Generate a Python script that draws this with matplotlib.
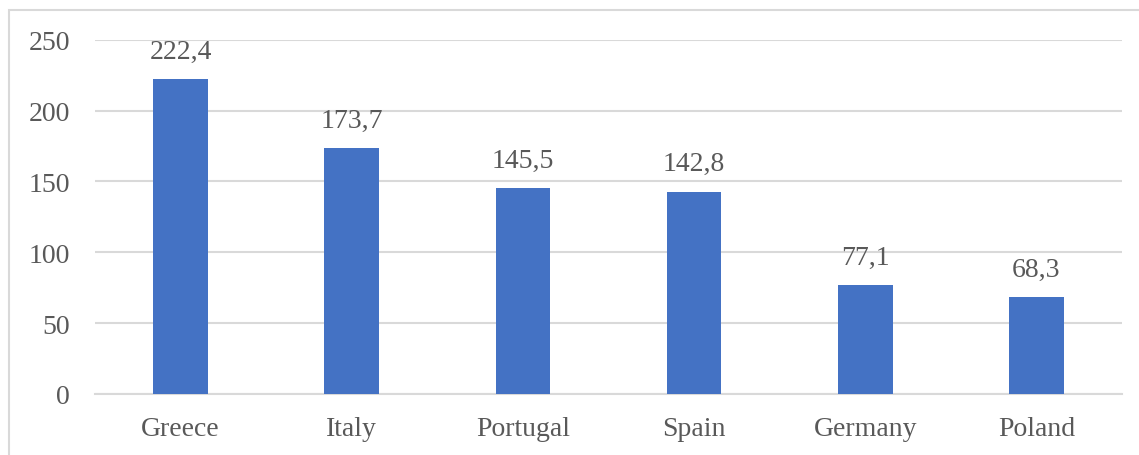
import matplotlib.pyplot as plt
from matplotlib.patches import Rectangle

countries = ["Greece", "Italy", "Portugal", "Spain", "Germany", "Poland"]
values = [222.4, 173.7, 145.5, 142.8, 77.1, 68.3]
labels = ["222,4", "173,7", "145,5", "142,8", "77,1", "68,3"]

plt.rcParams['font.family'] = ['Liberation Serif', 'DejaVu Serif']
text_color = '#595959'

fig = plt.figure(figsize=(11.39, 4.56), dpi=100)
# outer chart frame (only top/left edges visible in the crop)
fig.patches.append(Rectangle((9 / 1139, -0.1), 1.2, 1 - 11 / 456 + 0.1,
                             transform=fig.transFigure, fill=False,
                             edgecolor='#d9d9d9', linewidth=1.5))

ax = fig.add_axes([95 / 1139, 1 - 395 / 456, (1122 - 95) / 1139, (395 - 40.7) / 456])
x = range(len(countries))
bars = ax.bar(x, values, width=0.32, color='#4472C4', zorder=3)

for b, lab in zip(bars, labels):
    ax.annotate(lab, (b.get_x() + b.get_width() / 2, b.get_height()),
                xytext=(0, 11), textcoords='offset points',
                ha='center', va='bottom', fontsize=20, color=text_color)

ax.set_xlim(-0.5, len(countries) - 0.5)
ax.set_ylim(0, 250)
ax.set_yticks(range(0, 251, 50))
ax.set_xticks(list(x))
ax.set_xticklabels(countries)
ax.yaxis.grid(True, color='#d9d9d9', linewidth=1.5, zorder=0)
ax.tick_params(axis='y', length=0, pad=18, labelsize=20, labelcolor=text_color)
ax.tick_params(axis='x', length=0, pad=16, labelsize=20, labelcolor=text_color)
for s in ['top', 'right', 'left']:
    ax.spines[s].set_visible(False)
ax.spines['bottom'].set_color('#d9d9d9')
ax.spines['bottom'].set_linewidth(1.5)

plt.savefig('out.png', dpi=100)
